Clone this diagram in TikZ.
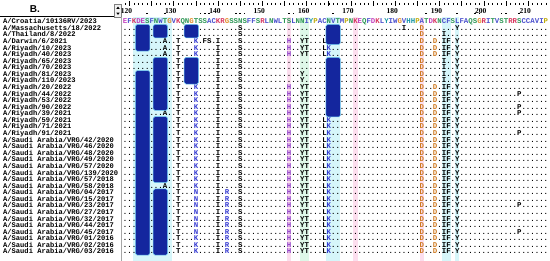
\documentclass[tikz,border=0pt]{standalone}
\usepackage{fontspec}
\newfontfamily\monob{Liberation Mono}
\newfontfamily\headsf{Liberation Sans}
\newfontfamily\serifb{Liberation Serif}

\definecolor{hydro}{RGB}{75,80,205}
\definecolor{basic}{RGB}{215,55,95}
\definecolor{acidic}{RGB}{195,65,190}
\definecolor{polar}{RGB}{45,150,85}
\definecolor{glyc}{RGB}{225,140,40}
\definecolor{prol}{RGB}{190,170,10}
\definecolor{arom}{RGB}{25,150,165}
\definecolor{rwblue}{RGB}{55,60,210}
\definecolor{rwpurple}{RGB}{140,60,200}
\definecolor{rworange}{RGB}{205,120,30}
\definecolor{glycoblue}{RGB}{20,38,158}
\definecolor{bandcyan}{RGB}{214,246,250}
\definecolor{bandpink}{RGB}{252,222,238}
\definecolor{bandgreen}{RGB}{222,248,232}

% residue colours, one colour per group of letters
\newcommand\defcol[3]{\def\tmpA{#1}\def\tmpC{#3}\defcolloop#2\relax}
\newcommand\defcolloop[1]{\ifx#1\relax\else\colorlet{\tmpA#1}{\tmpC}\expandafter\defcolloop\fi}
\defcol{cx}{AILMFWVC}{hydro}
\defcol{cx}{KR}{basic}
\defcol{cx}{ED}{acidic}
\defcol{cx}{NQST}{polar}
\defcol{cx}{G}{glyc}
\defcol{cx}{P}{prol}
\defcol{cx}{HY}{arom}
\defcol{rw}{ACEFGILMPQSTVWY}{black}
\defcol{rw}{KRN}{rwblue}
\defcol{rw}{H}{rwpurple}
\defcol{rw}{D}{rworange}

% one alignment row, read letter by letter
\newcommand\aares[1]{\ifx#1.\textcolor{black}{.}\else\textcolor{\pal#1}{#1}\fi}
\newcommand\seqloop[1]{\ifx#1\relax\else\aares{#1}\expandafter\seqloop\fi}

% blocks of ten columns
\def\qdot{..........}
\def\qend{......}
\def\qa{.........A}
\def\qbT{..T.......}
\def\qbTK{..T...K...}
\def\qbTKFS{..T...K.FS}
\def\qbTN{..T...N...}
\def\qcS{......S...}
\def\qcIS{.I....S...}
\def\qcIRS{.I.R..S...}
\def\qdH{.......H..}
\def\qeY{Y.........}
\def\qeYT{YT........}
\def\qeYTL{YT...L....}
\def\qeYTLK{YT...LK...}
\def\qgD{.......D..}
\def\qgID{...I...D..}
\def\qhY{.....Y....}
\def\qhI{..I.......}
\def\qhIY{..I..Y....}
\def\qhDIFY{D.IF.Y....}
\def\qiP{.........P}

\tikzset{
  seqrow/.style={anchor=base west, inner sep=0pt, font=\monob\bfseries\fontsize{7.38}{8}\selectfont},
  namerow/.style={anchor=base west, inner sep=0pt, font=\monob\bfseries\fontsize{7.1}{8}\selectfont},
  ruler/.style={inner sep=0pt, font=\serifb\bfseries\fontsize{7.5}{8}\selectfont},
  glyco/.style={fill=glycoblue, draw=cyan!55, line width=0.5pt, rounded corners=1.6pt}
}

\begin{document}
\begin{tikzpicture}[x=1pt, y=-1pt]
    \useasboundingbox (0,0) rectangle (550,261);

    % column shading
    \foreach \ca/\cb/\bc in {1.9/10.6/bandcyan, 36.5/37.5/bandpink, 39.5/41.5/bandgreen,
        45.4/48.6/bandcyan, 51.5/52.5/bandpink, 66.5/67.5/bandpink, 71.5/73.5/bandcyan, 74.5/75.5/bandcyan}
        \fill[\bc] ({125+4.43*\ca},17.5) rectangle ({125+4.43*\cb},261);

    % header and scroll box
    \node[font=\headsf\bfseries\fontsize{10}{12}\selectfont] (panel) at (35,9) {B.};
    \draw[line width=0.8pt] (0,16.5) -- (115,16.5);
    \draw[gray, fill=gray!10] (114.5,4.5) rectangle (121.5,17);
    \fill (116.3,8.8) -- (119.7,8.8) -- (118,6.6) -- cycle;
    \fill (116.3,12.7) -- (119.7,12.7) -- (118,14.9) -- cycle;
    \draw[gray!70, line width=0.9pt] (121.8,17) -- (121.8,261);

    % ruler
    \foreach \c in {0,...,95}
        \draw[line width=0.5pt] ({125+4.43*\c},3) -- ++(0,1.8);
    \foreach \c in {1,6,...,91}
        \draw[line width=0.6pt] ({125+4.43*\c},1.5) -- ++(0,4.5);
    \foreach \p in {120,130,...,210}
        \node[ruler] (num\p) at ({125+4.43*(\p-119)-3},10.6) {\p};
    \foreach \c in {5,9,17,18,19,25,26,27,37,38,47,68,75,79,80,85,86,89}
        \fill ({125+4.43*\c-0.8},12.9) rectangle ++(1.6,1.6);

    % strain names
    \foreach \nm [count=\r] in {A/Croatia/10136RV/2023, A/Massachusetts/18/2022, A/Thailand/8/2022,
        A/Darwin/6/2021, A/Riyadh/10/2023, A/Riyadh/40/2023, A/Riyadh/65/2023, A/Riyadh/70/2023,
        A/Riyadh/81/2023, A/Riyadh/110/2023, A/Riyadh/20/2022, A/Riyadh/44/2022, A/Riyadh/53/2022,
        A/Riyadh/90/2022, A/Riyadh/39/2021, A/Riyadh/59/2021, A/Riyadh/71/2021, A/Riyadh/91/2021,
        A/Saudi Arabia/VRG/42/2020, A/Saudi Arabia/VRG/46/2020, A/Saudi Arabia/VRG/48/2020,
        A/Saudi Arabia/VRG/49/2020, A/Saudi Arabia/VRG/57/2020, A/Saudi Arabia/VRG/139/2020,
        A/Saudi Arabia/VRG/57/2018, A/Saudi Arabia/VRG/58/2018, A/Saudi Arabia/VRG/04/2017,
        A/Saudi Arabia/VRG/15/2017, A/Saudi Arabia/VRG/23/2017, A/Saudi Arabia/VRG/27/2017,
        A/Saudi Arabia/VRG/32/2017, A/Saudi Arabia/VRG/44/2017, A/Saudi Arabia/VRG/45/2017,
        A/Saudi Arabia/VRG/01/2016, A/Saudi Arabia/VRG/02/2016, A/Saudi Arabia/VRG/03/2016}
        \node[namerow] (name\r) at (3,{21.4+6.58*(\r-1)+2.3}) {\nm};

    % reference row
    \node[seqrow] (seq1) at (122.786,23.7) {\def\pal{cx}\seqloop
        EFKDESFNWT GVKQNGTSSA CKRGSSNSFF SRLNWLTSLN NIYPACNVTM
        PNKEQFDKLY IWGVHHPATD KNCFSLFAQS GRITVSTRRS CCAVIP\relax};

    % aligned rows
    \foreach \s [count=\r from 2] in {
        \qdot\qdot\qcS\qdot\qdot\qdot\qgID\qhY\qdot\qend,
        \qdot\qdot\qcS\qdot\qdot\qdot\qgD\qhI\qdot\qend,
        \qa\qbTKFS\qcIS\qdH\qeYTL\qdot\qgD\qhDIFY\qdot\qend,
        \qa\qbTK\qcIS\qdH\qeYTLK\qdot\qgD\qhDIFY\qdot\qend,
        \qa\qbTK\qcIS\qdH\qeYTLK\qdot\qgD\qhDIFY\qdot\qend,
        \qdot\qbT\qcIS\qdot\qdot\qdot\qgD\qhIY\qdot\qend,
        \qdot\qbT\qcIS\qdot\qdot\qdot\qgD\qhIY\qdot\qend,
        \qdot\qbT\qcIS\qdot\qeY\qdot\qgD\qhIY\qdot\qend,
        \qdot\qbT\qcIS\qdot\qeY\qdot\qgD\qhIY\qdot\qend,
        \qdot\qbTK\qcIS\qdH\qeYT\qdot\qgD\qhDIFY\qdot\qend,
        \qdot\qbTK\qcIS\qdH\qeYT\qdot\qgD\qhDIFY\qiP\qend,
        \qdot\qbTK\qcIS\qdH\qeYT\qdot\qgD\qhDIFY\qdot\qend,
        \qdot\qbTK\qcIS\qdH\qeYT\qdot\qgD\qhDIFY\qiP\qend,
        \qa\qbTK\qcIS\qdH\qeYT\qdot\qgD\qhDIFY\qiP\qend,
        \qdot\qbTK\qcIS\qdH\qeYTLK\qdot\qgD\qhDIFY\qdot\qend,
        \qdot\qbTK\qcIS\qdH\qeYTLK\qdot\qgD\qhDIFY\qdot\qend,
        \qdot\qbTK\qcIS\qdH\qeYTLK\qdot\qgD\qhDIFY\qiP\qend,
        \qdot\qbTK\qcIS\qdH\qeYTLK\qdot\qgD\qhDIFY\qdot\qend,
        \qdot\qbTK\qcIS\qdH\qeYTLK\qdot\qgD\qhDIFY\qdot\qend,
        \qdot\qbTK\qcIS\qdH\qeYTLK\qdot\qgD\qhDIFY\qdot\qend,
        \qdot\qbTK\qcIS\qdH\qeYTLK\qdot\qgD\qhDIFY\qdot\qend,
        \qdot\qbTK\qcIS\qdH\qeYTLK\qdot\qgD\qhDIFY\qdot\qend,
        \qdot\qbTK\qcIS\qdH\qeYTLK\qdot\qgD\qhDIFY\qdot\qend,
        \qdot\qbTK\qcIS\qdH\qeYTLK\qdot\qgD\qhDIFY\qdot\qend,
        \qa\qbTK\qcIS\qdH\qeYTLK\qdot\qgD\qhDIFY\qdot\qend,
        \qdot\qbTN\qcIRS\qdH\qeYTLK\qdot\qgD\qhDIFY\qdot\qend,
        \qdot\qbTN\qcIRS\qdH\qeYTLK\qdot\qgD\qhDIFY\qdot\qend,
        \qdot\qbTN\qcIRS\qdH\qeYTLK\qdot\qgD\qhDIFY\qiP\qend,
        \qdot\qbTN\qcIRS\qdH\qeYTLK\qdot\qgD\qhDIFY\qdot\qend,
        \qdot\qbTN\qcIRS\qdH\qeYTLK\qdot\qgD\qhDIFY\qdot\qend,
        \qdot\qbTN\qcIRS\qdH\qeYTLK\qdot\qgD\qhDIFY\qdot\qend,
        \qdot\qbTN\qcIRS\qdH\qeYTLK\qdot\qgD\qhDIFY\qiP\qend,
        \qdot\qbTK\qcIRS\qdH\qeYTLK\qdot\qgD\qhDIFY\qdot\qend,
        \qdot\qbTK\qcIRS\qdH\qeYTLK\qdot\qgD\qhDIFY\qdot\qend,
        \qdot\qbTK\qcIRS\qdH\qeYTLK\qdot\qgD\qhDIFY\qdot\qend}
        \node[seqrow] (seq\r) at (122.786,{21.4+6.58*(\r-1)+2.3})
            {\def\pal{rw}\edef\rowtxt{\s}\expandafter\seqloop\rowtxt\relax};

    % glycosylation motifs
    \foreach \ca/\ra/\rb in {3/2/5, 3/9/36, 7/2/3, 7/7/14, 7/16/25, 7/27/36,
        14/2/3, 14/7/10, 46/2/4, 46/7/15}
        \draw[glyco] ({125+4.43*\ca-2.8},{21.4+6.58*(\ra-1)-3.5})
            rectangle ({125+4.43*(\ca+2)+2.8},{21.4+6.58*(\rb-1)+3.4});
\end{tikzpicture}
\end{document}
